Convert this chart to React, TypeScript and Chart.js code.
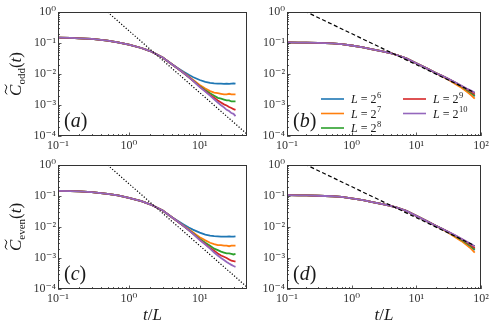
import React, { useEffect, useRef } from 'react';
import { Chart, registerables } from 'chart.js';

Chart.register(...registerables);

// ---------------- data ----------------
const SERIES_COLORS = ['#1f77b4', '#ff7f0e', '#2ca02c', '#d62728', '#9467bd'];
const SIZE_EXPONENTS = ['6', '7', '8', '9', '10'];
const PANEL_LABELS = ['a', 'b', 'c', 'd'];

// panels (a) and (c): t/L values
const tShort = [0.1, 0.15, 0.2, 0.3, 0.5, 0.7, 1, 1.5, 2, 3, 4, 5, 6, 7, 8, 10, 12, 14, 16, 18, 20, 22, 24, 26, 28, 30, 32];

// (a) C_odd, common part up to t/L = 4
const oddHead = [0.148, 0.146, 0.142, 0.135, 0.119, 0.105, 0.088, 0.069, 0.055, 0.034, 0.021];
const oddL6 = [0.0150, 0.0116, 0.0094, 0.0080, 0.0064, 0.0056, 0.0052, 0.0050, 0.0049, 0.0049, 0.0048, 0.0049, 0.0048, 0.0049, 0.0050, 0.0049];
const oddL7 = [0.0146, 0.0108, 0.0083, 0.0066, 0.0044, 0.0034, 0.0028, 0.0025, 0.0024, 0.0023, 0.0022, 0.0022, 0.0023, 0.0022, 0.0022, 0.0022];
const oddL8 = [0.0145, 0.0105, 0.0079, 0.0062, 0.0040, 0.0030, 0.0024, 0.0020, 0.0017, 0.0016, 0.0015, 0.0014, 0.0014, 0.0013, 0.0013, 0.0013];
const oddL9 = [0.0145, 0.0105, 0.0079, 0.0061, 0.0039, 0.0028, 0.0021, 0.0017, 0.0014, 0.0012, 0.00105, 0.00096, 0.00086, 0.0008, 0.00074, 0.0007];
const oddL10 = [0.0145, 0.0105, 0.0079, 0.0061, 0.0038, 0.0027, 0.0020, 0.00152, 0.0012, 0.00098, 0.00084, 0.0007, 0.00064, 0.00055, 0.00052, 0.00044];

// (c) C_even
const evenHead = [0.146, 0.144, 0.141, 0.134, 0.118, 0.104, 0.087, 0.068, 0.054, 0.034, 0.021];
const evenL6 = [0.0152, 0.0118, 0.0096, 0.0082, 0.0066, 0.0057, 0.0053, 0.0051, 0.0050, 0.0049, 0.0049, 0.0049, 0.0050, 0.0049, 0.0049, 0.0050];
const evenL7 = [0.0146, 0.0108, 0.0084, 0.0068, 0.0047, 0.0037, 0.0031, 0.0028, 0.0026, 0.0026, 0.0025, 0.0025, 0.0024, 0.0025, 0.0025, 0.0025];
const evenL8 = [0.0145, 0.0105, 0.0080, 0.0063, 0.0041, 0.0031, 0.0025, 0.0020, 0.0018, 0.0016, 0.0015, 0.0014, 0.0014, 0.00135, 0.0013, 0.00135];
const evenL9 = [0.0145, 0.0105, 0.0079, 0.0061, 0.0039, 0.0028, 0.0021, 0.0017, 0.0014, 0.0012, 0.0011, 0.001, 0.0009, 0.00082, 0.0008, 0.00076];
const evenL10 = [0.0145, 0.0105, 0.0079, 0.0061, 0.0038, 0.0027, 0.0020, 0.0015, 0.0012, 0.001, 0.00086, 0.00074, 0.00066, 0.0006, 0.00055, 0.00052];

// panels (b) and (d): t/L values
const tLong = [0.1, 0.15, 0.2, 0.3, 0.5, 0.7, 1, 1.5, 2, 3, 4, 5, 7, 10, 15, 20, 25, 30, 40, 50, 60, 70, 80];

// (b)
const bHead = [0.104, 0.1035, 0.103, 0.101, 0.097, 0.092, 0.083, 0.072, 0.064, 0.054, 0.047, 0.041, 0.032, 0.0222, 0.0146, 0.0108];
const bL6 = [0.0086, 0.0071, 0.0051, 0.0039, 0.0030, 0.0024, 0.0019];
const bL7 = [0.0084, 0.0069, 0.0048, 0.0036, 0.0027, 0.0021, 0.0016];
const bL8 = [0.0087, 0.0072, 0.0052, 0.0040, 0.0031, 0.0025, 0.0020];
const bL9 = [0.0087, 0.0072, 0.0053, 0.0041, 0.0033, 0.0027, 0.0022];
const bL10 = [0.0087, 0.0072, 0.0054, 0.0042, 0.0034, 0.0029, 0.0025];

// (d)
const dHead = [0.106, 0.105, 0.104, 0.102, 0.098, 0.093, 0.084, 0.073, 0.065, 0.055, 0.048, 0.042, 0.033, 0.0228, 0.0149, 0.0110];
const dL6 = [0.0087, 0.0071, 0.0050, 0.0038, 0.0029, 0.0023, 0.0018];
const dL7 = [0.0085, 0.0069, 0.0047, 0.0035, 0.0026, 0.0020, 0.0015];
const dL8 = [0.0088, 0.0072, 0.0051, 0.0039, 0.0030, 0.0024, 0.0019];
const dL9 = [0.0088, 0.0073, 0.0053, 0.0041, 0.0032, 0.0026, 0.0021];
const dL10 = [0.0088, 0.0073, 0.0054, 0.0042, 0.0034, 0.0028, 0.0024];

// guide lines
const dottedX = [0.1, 50];
const dottedY = [25, 0.0001];
const dashedX = [0.1, 80];
const dashedY = [2, 0.0025];

// ---------------- helpers ----------------
const SERIF = '"Liberation Serif", "DejaVu Serif", serif';
const SUP: Record<string, string> = { '-': '⁻', '0': '⁰', '1': '¹', '2': '²', '3': '³', '4': '⁴', '5': '⁵', '6': '⁶', '7': '⁷', '8': '⁸', '9': '⁹' };
const isPow10 = (v: number) => Math.abs(Math.log10(v) - Math.round(Math.log10(v))) < 1e-6;
const isLogTick = (v: number) => {
  const e = Math.floor(Math.log10(v) + 1e-9);
  const m = v / Math.pow(10, e);
  return Math.abs(m - Math.round(m)) < 1e-6;
};
const fmtTick = (v: number) =>
  isPow10(v) ? '10' + String(Math.round(Math.log10(v))).split('').map((c) => SUP[c]).join('') : '';

type PanelCfg = {
  left: number; top: number; width: number; height: number;
  padTop: number; padRight: number; yWidth: number; xHeight: number;
  xMax: number; xs: number[]; series: number[][];
  guideX: number[]; guideY: number[]; guideDash: number[];
  label: string; yTitle?: string; xTitle?: boolean; legend?: boolean;
};

function drawParts(ctx: CanvasRenderingContext2D, parts: { t: string; f: string; dy?: number }[], x: number, y: number) {
  let cx = x;
  const pos: number[] = [];
  for (const p of parts) {
    ctx.font = p.f;
    pos.push(cx);
    ctx.fillText(p.t, cx, y + (p.dy || 0));
    cx += ctx.measureText(p.t).width;
  }
  return pos;
}
function partsWidth(ctx: CanvasRenderingContext2D, parts: { t: string; f: string }[]) {
  let w = 0;
  for (const p of parts) { ctx.font = p.f; w += ctx.measureText(p.t).width; }
  return w;
}

function makeDecor(cfg: PanelCfg) {
  return {
    id: 'decor',
    afterDraw(chart: any) {
      const ctx: CanvasRenderingContext2D = chart.ctx;
      const a = chart.chartArea;
      const xs = chart.scales.x;
      const ys = chart.scales.y;
      ctx.save();
      // inward ticks
      ctx.strokeStyle = '#333';
      ctx.lineWidth = 0.8;
      ctx.beginPath();
      for (const t of xs.ticks) {
        const v = t.value;
        if (!isLogTick(v)) continue;
        const px = Math.round(xs.getPixelForValue(v)) + 0.5;
        const len = isPow10(v) ? 3.5 : 2;
        ctx.moveTo(px, a.bottom);
        ctx.lineTo(px, a.bottom - len);
      }
      for (const t of ys.ticks) {
        const v = t.value;
        if (!isLogTick(v)) continue;
        const py = Math.round(ys.getPixelForValue(v)) + 0.5;
        const len = isPow10(v) ? 3.5 : 2;
        ctx.moveTo(a.left, py);
        ctx.lineTo(a.left + len, py);
      }
      ctx.stroke();
      // frame
      ctx.strokeStyle = '#333';
      ctx.lineWidth = 1;
      ctx.strokeRect(a.left + 0.5, a.top + 0.5, a.right - a.left - 1, a.bottom - a.top - 1);

      ctx.fillStyle = '#1a1a1a';
      ctx.textBaseline = 'alphabetic';
      ctx.textAlign = 'left';
      // panel label
      drawParts(ctx, [
        { t: '(', f: `20px ${SERIF}` },
        { t: cfg.label, f: `italic 20px ${SERIF}` },
        { t: ')', f: `20px ${SERIF}` },
      ], a.left + 6, a.top + 115);

      // y title
      if (cfg.yTitle) {
        const parts = [
          { t: 'C', f: `italic 17px ${SERIF}` },
          { t: cfg.yTitle, f: `11px ${SERIF}`, dy: 4 },
          { t: '(', f: `17px ${SERIF}` },
          { t: 't', f: `italic 17px ${SERIF}` },
          { t: ')', f: `17px ${SERIF}` },
        ];
        const w = partsWidth(ctx, parts);
        ctx.save();
        ctx.translate(21, (a.top + a.bottom) / 2);
        ctx.rotate(-Math.PI / 2);
        const pos = drawParts(ctx, parts, -w / 2, 0);
        // tilde over C
        const tx = pos[0] + 1.5;
        const tw = 10;
        const ty = -15;
        ctx.beginPath();
        ctx.moveTo(tx, ty + 1);
        ctx.quadraticCurveTo(tx + tw * 0.25, ty - 2.2, tx + tw * 0.5, ty);
        ctx.quadraticCurveTo(tx + tw * 0.75, ty + 2.2, tx + tw, ty - 1);
        ctx.strokeStyle = '#1a1a1a';
        ctx.lineWidth = 1;
        ctx.stroke();
        ctx.restore();
      }

      // x title
      if (cfg.xTitle) {
        const parts = [
          { t: 't', f: `italic 17px ${SERIF}` },
          { t: '/', f: `17px ${SERIF}` },
          { t: 'L', f: `italic 17px ${SERIF}` },
        ];
        const w = partsWidth(ctx, parts);
        drawParts(ctx, parts, (a.left + a.right) / 2 - w / 2, a.bottom + 31);
      }

      // legend
      if (cfg.legend) {
        const rows = [0, 14.5, 29];
        const cols = [34, 116];
        SIZE_EXPONENTS.forEach((e, i) => {
          const col = i < 3 ? 0 : 1;
          const row = i < 3 ? i : i - 3;
          const cy = a.top + 87 + rows[row];
          const lx = a.left + cols[col];
          ctx.strokeStyle = SERIES_COLORS[i];
          ctx.lineWidth = 1.6;
          ctx.beginPath();
          ctx.moveTo(lx, cy);
          ctx.lineTo(lx + 23, cy);
          ctx.stroke();
          ctx.fillStyle = '#1a1a1a';
          const tx = lx + 30;
          const p = drawParts(ctx, [
            { t: 'L', f: `italic 12px ${SERIF}` },
            { t: ' = 2', f: `12px ${SERIF}` },
          ], tx, cy + 4);
          ctx.font = `12px ${SERIF}`;
          const end = p[1] + ctx.measureText(' = 2').width;
          ctx.font = `8.5px ${SERIF}`;
          ctx.fillText(e, end + 0.5, cy - 1.5);
        });
      }
      ctx.restore();
    },
  };
}

function Panel({ cfg }: { cfg: PanelCfg }) {
  const ref = useRef<HTMLCanvasElement>(null);
  useEffect(() => {
    const datasets: any[] = cfg.series.map((ys, k) => ({
      label: 'L = 2^' + SIZE_EXPONENTS[k],
      data: cfg.xs.map((x, i) => ({ x, y: ys[i] })),
      borderColor: SERIES_COLORS[k],
      backgroundColor: SERIES_COLORS[k],
      borderWidth: 1.8,
      pointRadius: 0,
      tension: 0,
      fill: false,
      order: 4 - k,
    }));
    datasets.push({
      label: 'guide',
      data: cfg.guideX.map((x, i) => ({ x, y: cfg.guideY[i] })),
      borderColor: '#000',
      borderWidth: 1.2,
      borderDash: cfg.guideDash,
      pointRadius: 0,
      fill: false,
      order: -1,
    });
    const tickFont = { family: SERIF, size: 12 };
    const chart = new Chart(ref.current as HTMLCanvasElement, {
      type: 'line',
      data: { datasets },
      options: {
        animation: false,
        responsive: false,
        events: [],
        layout: { padding: { left: 0, right: cfg.padRight, top: cfg.padTop, bottom: 0 } },
        plugins: { legend: { display: false }, tooltip: { enabled: false } },
        scales: {
          x: {
            type: 'logarithmic',
            min: 0.1,
            max: cfg.xMax,
            grid: { display: false, drawTicks: false },
            border: { display: false },
            ticks: {
              autoSkip: false, maxRotation: 0, minRotation: 0, padding: 3,
              color: '#333', font: tickFont,
              callback: (v: any) => fmtTick(Number(v)),
            },
            afterFit: (s: any) => { s.height = cfg.xHeight; },
          },
          y: {
            type: 'logarithmic',
            min: 1e-4,
            max: 1,
            grid: { display: false, drawTicks: false },
            border: { display: false },
            ticks: {
              autoSkip: false, padding: 2,
              color: '#333', font: tickFont,
              callback: (v: any) => fmtTick(Number(v)),
            },
            afterFit: (s: any) => { s.width = cfg.yWidth; },
          },
        },
      } as any,
      plugins: [makeDecor(cfg) as any],
    });
    return () => chart.destroy();
  }, [cfg]);
  return (
    <canvas
      ref={ref}
      width={cfg.width}
      height={cfg.height}
      style={{ position: 'absolute', left: cfg.left, top: cfg.top, width: cfg.width, height: cfg.height }}
    />
  );
}

const PANELS: PanelCfg[] = [
  {
    left: 0, top: 0, width: 250, height: 155, padTop: 12, padRight: 1, yWidth: 58, xHeight: 19,
    xMax: 46.5, xs: tShort,
    series: [oddL6, oddL7, oddL8, oddL9, oddL10].map((tail) => [...oddHead, ...tail]),
    guideX: dottedX, guideY: dottedY, guideDash: [1.2, 1.8],
    label: PANEL_LABELS[0], yTitle: 'odd',
  },
  {
    left: 250, top: 0, width: 248, height: 155, padTop: 12, padRight: 17, yWidth: 37, xHeight: 19,
    xMax: 100, xs: tLong,
    series: [bL6, bL7, bL8, bL9, bL10].map((tail) => [...bHead, ...tail]),
    guideX: dashedX, guideY: dashedY, guideDash: [4, 2.5],
    label: PANEL_LABELS[1], legend: true,
  },
  {
    left: 0, top: 155, width: 250, height: 177, padTop: 10, padRight: 1, yWidth: 58, xHeight: 43,
    xMax: 46.5, xs: tShort,
    series: [evenL6, evenL7, evenL8, evenL9, evenL10].map((tail) => [...evenHead, ...tail]),
    guideX: dottedX, guideY: dottedY, guideDash: [1.2, 1.8],
    label: PANEL_LABELS[2], yTitle: 'even', xTitle: true,
  },
  {
    left: 250, top: 155, width: 248, height: 177, padTop: 10, padRight: 17, yWidth: 37, xHeight: 43,
    xMax: 100, xs: tLong,
    series: [dL6, dL7, dL8, dL9, dL10].map((tail) => [...dHead, ...tail]),
    guideX: dashedX, guideY: dashedY, guideDash: [4, 2.5],
    label: PANEL_LABELS[3], xTitle: true,
  },
];

export default function App() {
  return (
    <div style={{ position: 'fixed', left: 0, top: 0, width: 498, height: 332, background: '#fff', overflow: 'hidden' }}>
      {PANELS.map((cfg, i) => (
        <Panel key={i} cfg={cfg} />
      ))}
    </div>
  );
}
